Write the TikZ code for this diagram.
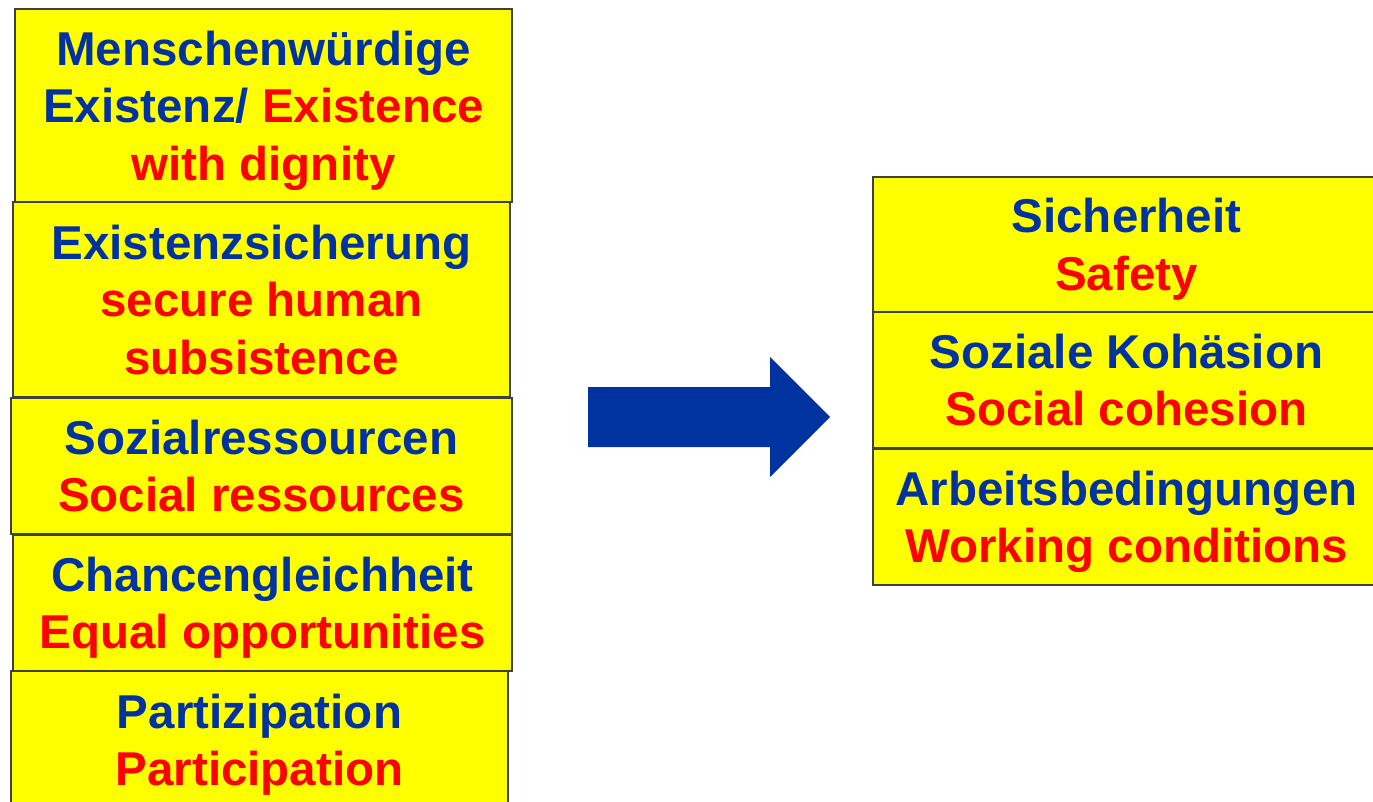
\documentclass[tikz,border=0pt]{standalone}
\usepackage{fontspec}
\setmainfont{Liberation Sans}
\definecolor{tblue}{RGB}{0,51,160}
\definecolor{tred}{RGB}{255,0,0}
\definecolor{byellow}{RGB}{255,255,0}
\definecolor{bgray}{RGB}{64,64,64}
\tikzset{
  boxnode/.style={draw=bgray, line width=1.8pt, fill=byellow, inner sep=0pt, align=center,
    text depth=0pt, font={\fontsize{47.5}{57.5}\selectfont\bfseries}},
}
\newcommand{\bl}[1]{{\color{tblue}#1}}
\newcommand{\rd}[1]{{\color{tred}#1}}
\begin{document}
\begin{tikzpicture}[x=1pt,y=-1pt]
\useasboundingbox (0,0) rectangle (1373,802);
\clip (0,0) rectangle (1373,802);
\fill[white] (0,0) rectangle (1373,802);
% left stack
\node[boxnode, minimum width=497pt, minimum height=193pt] (b1) at (263.5,105.5)
  {\bl{Menschenwürdige}\\\bl{Existenz/} \rd{Existence}\\\rd{with dignity}};
\node[boxnode, minimum width=497pt, minimum height=195pt] (b2) at (261.5,299.5)
  {\bl{Existenzsicherung}\\\rd{secure human}\\\rd{subsistence}};
\node[boxnode, minimum width=501pt, minimum height=136pt] (b3) at (261.5,466)
  {\bl{Sozialressourcen}\\\rd{Social ressources}};
\node[boxnode, minimum width=499pt, minimum height=136pt] (b4) at (262.5,603)
  {\bl{Chancengleichheit}\\\rd{Equal opportunities}};
\node[boxnode, minimum width=497pt, minimum height=138pt] (b5) at (259.5,740)
  {\bl{Partizipation}\\\rd{Participation}};
% right stack
\node[boxnode, minimum width=507pt, minimum height=135pt] (r1) at (1126.5,244.5)
  {\bl{Sicherheit}\\\rd{Safety}};
\node[boxnode, minimum width=507pt, minimum height=136pt] (r2) at (1126.5,380)
  {\bl{Soziale Kohäsion}\\\rd{Social cohesion}};
\node[boxnode, minimum width=507pt, minimum height=136pt] (r3) at (1126.5,517)
  {\bl{Arbeitsbedingungen}\\\rd{Working conditions}};
% block arrow
\fill[tblue] (588,387) -- (770,387) -- (770,357) -- (830,417) -- (770,477) -- (770,447) -- (588,447) -- cycle;
\end{tikzpicture}
\end{document}
